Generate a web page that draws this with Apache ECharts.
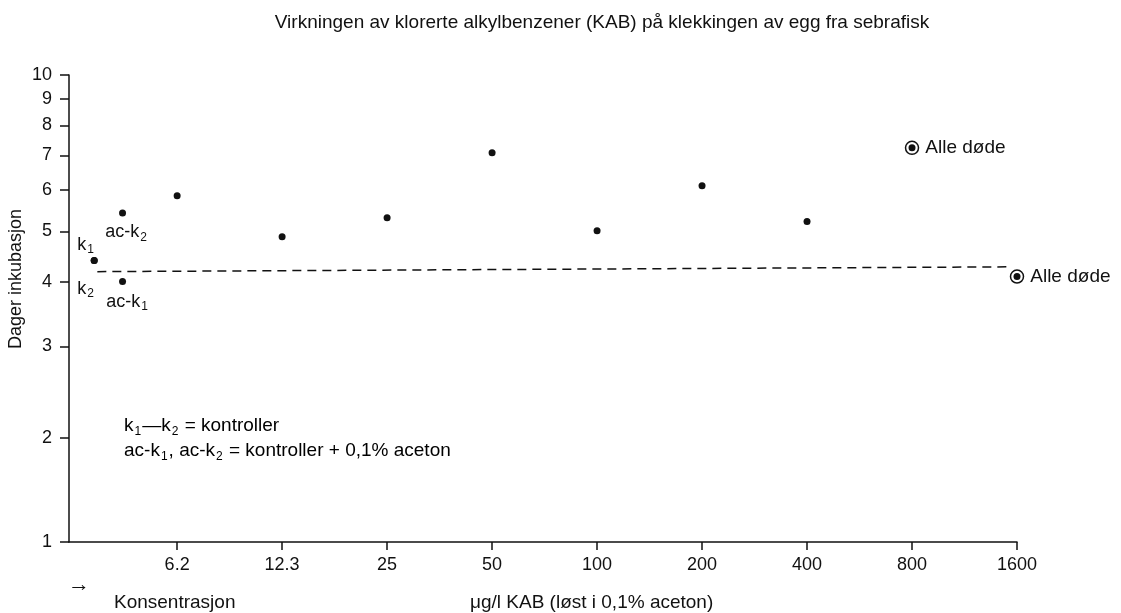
<!DOCTYPE html>
<html>
<head>
<meta charset="utf-8">
<script src="https://cdn.jsdelivr.net/npm/echarts@6/dist/echarts.min.js"></script>
<style>
  html, body { margin: 0; padding: 0; background: #fff; }
  #chart { width: 1121px; height: 613px; }
</style>
</head>
<body>
<div id="chart"></div>
<script>
// konsentrasjoner (ug/l), plassert med lik avstand (doblingstrinn)
var concLabels = ['6.2', '12.3', '25', '50', '100', '200', '400', '800', '1600'];
// dager inkubasjon for 6.2 .. 400
var dayValues = [5.85, 4.88, 5.31, 7.08, 5.01, 6.12, 5.22];
// 800 og 1600: alle døde
var deadIndex = [7, 8];
var deadValues = [7.24, 4.09];
// kontroller (til venstre for 6.2)
var controlNames = ['k1', 'k2', 'ac-k1', 'ac-k2'];
var controlPos = [-0.79, -0.79, -0.52, -0.52];
var controlValues = [4.39, 4.39, 4.00, 5.42];
// stiplet linje
var trendX = [-0.76, 7.9];
var trendY = [4.18, 4.27];
// y-akse (log), "1" står ved bunnen av en brutt akse
var yTicks = [1, 2, 3, 4, 5, 6, 7, 8, 9, 10];
var yAxisBottom = 1.26;

var FONT = 'Liberation Sans';
var INK = '#111';
var log10 = function (v) { return Math.log10(v); };

var richSub = {
	b: { fontSize: 19, fontFamily: FONT, color: INK, lineHeight: 22 },
	s: { fontSize: 12, fontFamily: FONT, color: INK, lineHeight: 12, padding: [12, 1, 0, 1] }
};
var richLbl = {
	b: { fontSize: 18, fontFamily: FONT, color: INK, lineHeight: 21 },
	s: { fontSize: 12, fontFamily: FONT, color: INK, lineHeight: 12, padding: [11, 1, 0, 1] }
};
var controlLabel = {
	'k1': { text: '{b|k}{s|1}', offset: [-8, -16] },
	'k2': { text: '{b|k}{s|2}', offset: [-8, 28] },
	'ac-k1': { text: '{b|ac-k}{s|1}', offset: [5, 20] },
	'ac-k2': { text: '{b|ac-k}{s|2}', offset: [4, 19] }
};

var dots = [];
for (var i = 0; i < controlNames.length; i++) {
	var cl = controlLabel[controlNames[i]];
	dots.push({
		value: [controlPos[i], log10(controlValues[i])],
		label: {
			show: true, position: 'inside', offset: cl.offset, color: INK,
			formatter: cl.text, rich: richLbl
		}
	});
}
for (var j = 0; j < dayValues.length; j++) {
	dots.push([j, log10(dayValues[j])]);
}
var dead = [];
for (var k = 0; k < deadIndex.length; k++) {
	dead.push([deadIndex[k], log10(deadValues[k])]);
}
var trend = [];
for (var t = 0; t < trendX.length; t++) {
	trend.push([trendX[t], log10(trendY[t])]);
}
var yCustom = yTicks.map(function (v) { return log10(v === 1 ? yAxisBottom : v); });
var xCustom = concLabels.map(function (c, idx) { return idx; });

var myChart = echarts.init(document.getElementById('chart'));
var option = {
	animation: false,
	backgroundColor: '#fff',
	title: {
		text: 'Virkningen av klorerte alkylbenzener (KAB) på klekkingen av egg fra sebrafisk',
		left: 597, top: 8, textAlign: 'center',
		textStyle: { fontFamily: FONT, fontSize: 19, fontWeight: 'normal', color: INK }
	},
	grid: { left: 69, right: 104, top: 75, bottom: 71 },
	xAxis: {
		type: 'value', min: -1.03, max: 8,
		splitLine: { show: false },
		axisLine: { show: true, onZero: false, lineStyle: { color: INK, width: 1.5 } },
		axisTick: { show: true, length: 8, customValues: xCustom, lineStyle: { color: INK, width: 1.5 } },
		axisLabel: {
			customValues: xCustom, margin: 14, color: INK,
			fontFamily: FONT, fontSize: 18,
			formatter: function (v) { return concLabels[Math.round(v)]; }
		}
	},
	yAxis: {
		type: 'value', min: log10(yAxisBottom), max: 1,
		splitLine: { show: false },
		axisLine: { show: true, onZero: false, lineStyle: { color: INK, width: 1.5 } },
		axisTick: { show: true, length: 9, customValues: yCustom, lineStyle: { color: INK, width: 1.5 } },
		axisLabel: {
			customValues: yCustom, margin: 17, color: INK,
			fontFamily: FONT, fontSize: 18,
			formatter: function (v) { return String(Math.round(Math.pow(10, v))); }
		}
	},
	graphic: [
		{ type: 'text', left: 7, top: 209, rotation: Math.PI / 2,
		  style: { text: 'Dager inkubasjon', font: '18px ' + FONT, fill: INK } },
		{ type: 'text', left: 124, top: 414,
		  style: { text: '{b|k}{s|1}{b|—k}{s|2}{b| = kontroller}', rich: richSub } },
		{ type: 'text', left: 124, top: 439,
		  style: { text: '{b|ac-k}{s|1}{b|, ac-k}{s|2}{b| = kontroller + 0,1% aceton}', rich: richSub } },
		{ type: 'text', left: 68, top: 574,
		  style: { text: '→', font: 'bold 22px ' + FONT, fill: INK } },
		{ type: 'text', left: 114, top: 593,
		  style: { text: 'Konsentrasjon', font: '19px ' + FONT, fill: INK } },
		{ type: 'text', left: 470, top: 593,
		  style: { text: 'μg/l KAB (løst i 0,1% aceton)', font: '19px ' + FONT, fill: INK } }
	],
	series: [
		{
			type: 'line', data: trend, symbol: 'none', silent: true,
			lineStyle: { color: INK, width: 1.5, type: [9, 6] }
		},
		{
			type: 'scatter', data: dots, symbol: 'circle', symbolSize: 7,
			itemStyle: { color: INK, opacity: 1 }
		},
		{
			type: 'scatter', data: dead, symbol: 'circle', symbolSize: 13,
			itemStyle: { color: 'transparent', borderColor: INK, borderWidth: 1.5, opacity: 1 },
			label: {
				show: true, position: 'right', distance: 6,
				formatter: 'Alle døde', color: INK, fontFamily: FONT, fontSize: 19
			}
		},
		{
			type: 'scatter', data: dead, symbol: 'circle', symbolSize: 7,
			itemStyle: { color: INK, opacity: 1 }
		}
	]
};
myChart.setOption(option);
</script>
</body>
</html>
